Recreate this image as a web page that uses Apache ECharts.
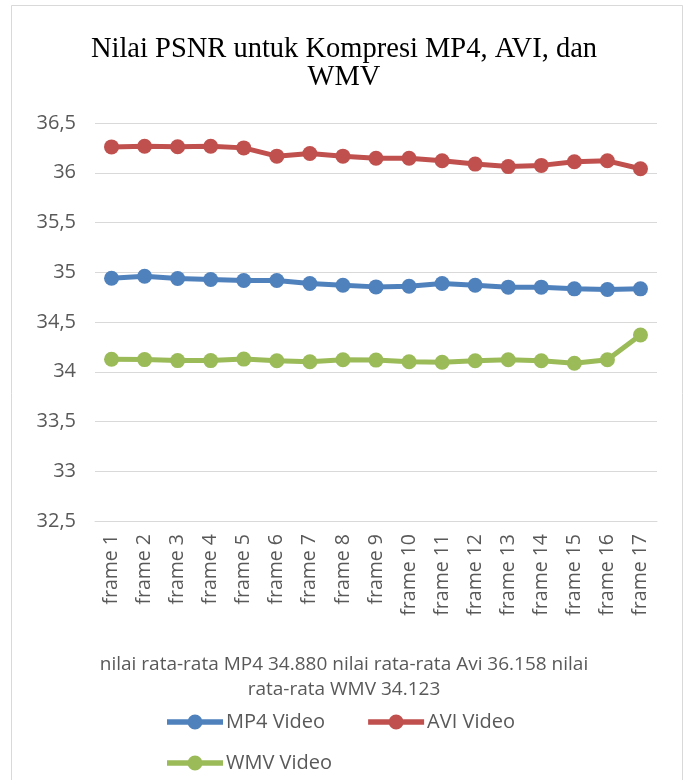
<!DOCTYPE html>
<html><head><meta charset="utf-8">
<script src="https://cdn.jsdelivr.net/npm/echarts@6/dist/echarts.min.js"></script>
<style>html,body{margin:0;padding:0;background:#fff}#c{width:688px;height:780px}</style>
</head><body><div id="c"></div>
<script>
const categories = ['frame 1','frame 2','frame 3','frame 4','frame 5','frame 6','frame 7','frame 8','frame 9','frame 10','frame 11','frame 12','frame 13','frame 14','frame 15','frame 16','frame 17'];
const mp4Values = [34.94,34.96,34.937,34.927,34.917,34.917,34.887,34.87,34.853,34.86,34.887,34.87,34.85,34.85,34.833,34.827,34.833];
const aviValues = [36.26,36.267,36.262,36.267,36.25,36.167,36.193,36.167,36.146,36.146,36.12,36.087,36.062,36.074,36.11,36.12,36.04];
const wmvValues = [34.125,34.122,34.112,34.112,34.127,34.11,34.1,34.12,34.117,34.1,34.096,34.11,34.12,34.11,34.085,34.12,34.37];
const yTicks = {min: 32.5, max: 36.5, interval: 0.5};
const titleText = 'Nilai PSNR untuk Kompresi MP4, AVI, dan\nWMV';
const xAxisTitle = 'nilai rata-rata MP4 34.880 nilai rata-rata Avi 36.158 nilai\nrata-rata WMV 34.123';
const seriesNames = ['MP4 Video','AVI Video','WMV Video'];
const colors = ['#4F81BD','#C0504D','#9BBB59'];
const font = '"Open Sans", Lato, sans-serif';
const legendIcon = 'path://M0,5 L21,5 L21,10.5 L0,10.5 Z M35,5 L56,5 L56,10.5 L35,10.5 Z M20.5,7.75 A7.5,7.5 0 1,1 35.5,7.75 A7.5,7.5 0 1,1 20.5,7.75 Z';

const chart = echarts.init(document.getElementById('c'), null, {renderer:'canvas'});
function mk(name, data, color){
  return {name, type:'line', data, color, symbol:'circle', symbolSize:15,
    lineStyle:{width:5, color}, itemStyle:{color}, animation:false};
}
const legendText = {fontFamily:font, fontSize:20, color:'#595959', padding:[0,0,0,-2]};
chart.setOption({
  backgroundColor:'#fff',
  animation:false,
  graphic:[{type:'rect', shape:{x:11.5,y:5.5,width:671,height:790}, style:{fill:'none', stroke:'#D9D9D9', lineWidth:1}, z:-1}],
  title:[
    {text:titleText, left:'center', top:30, itemGap:0,
      textStyle:{fontFamily:'"Liberation Serif", "Times New Roman", serif', fontSize:28.5, fontWeight:'normal', color:'#000', lineHeight:28.5}},
    {text:xAxisTitle, left:'center', top:647,
      textStyle:{fontFamily:font, fontSize:19, fontWeight:'normal', color:'#595959', lineHeight:25}}
  ],
  legend:[
    {data:[seriesNames[0], seriesNames[1]], left:162, top:707, itemWidth:56, itemHeight:15.5, itemGap:43,
      icon:legendIcon, textStyle:legendText},
    {data:[seriesNames[2]], left:162, top:748, itemWidth:56, itemHeight:15.5,
      icon:legendIcon, textStyle:legendText}
  ],
  grid:{left:95, right:31, top:123, bottom:259, containLabel:false},
  xAxis:{type:'category', data:categories, boundaryGap:true,
    axisLine:{show:true, lineStyle:{color:'#D9D9D9', width:1}}, axisTick:{show:false},
    axisLabel:{rotate:90, fontFamily:font, fontSize:19.5, color:'#595959', margin:13, interval:0}},
  yAxis:{type:'value', min:yTicks.min, max:yTicks.max, interval:yTicks.interval,
    axisLine:{show:false}, axisTick:{show:false},
    splitLine:{lineStyle:{color:'#D9D9D9', width:1}},
    axisLabel:{fontFamily:font, fontSize:20, color:'#595959', margin:19,
      formatter:v=>String(+v.toFixed(1)).replace('.',',')}},
  series:[mk(seriesNames[0], mp4Values, colors[0]), mk(seriesNames[1], aviValues, colors[1]), mk(seriesNames[2], wmvValues, colors[2])]
});
</script></body></html>
